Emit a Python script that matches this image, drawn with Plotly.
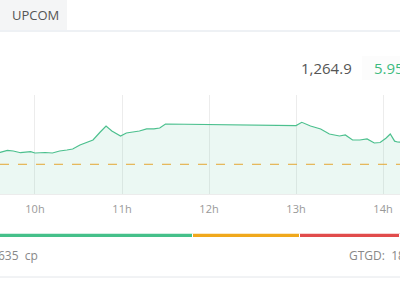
import plotly.graph_objects as go

# ---- data ----
times = ["09:30", "09:36", "09:41", "09:45", "09:50", "09:54", "09:57", "10:00", "10:04", "10:07",
         "10:12", "10:17", "10:22", "10:26", "10:31", "10:36", "10:40", "10:45", "10:49",
         "10:53", "10:59", "11:03", "11:08", "11:12", "11:17", "11:22", "11:26", "11:30",
         "13:00", "13:04", "13:10", "13:17", "13:23", "13:27", "13:30", "13:34", "13:39",
         "13:44", "13:49", "13:54", "13:58", "14:02", "14:05", "14:08", "14:10", "14:15"]
values = [1262.3, 1262.19, 1262.73, 1262.54, 1262.08, 1262.2, 1262.35, 1262.0, 1262.05, 1262.14,
          1262.0, 1262.54, 1262.81, 1263.08, 1264.17, 1264.98, 1265.52, 1267.68, 1269.30,
          1267.95, 1266.6, 1267.41, 1267.6, 1267.95, 1268.5, 1268.5, 1268.76, 1269.84,
          1269.4, 1270.3, 1269.3, 1268.5, 1267.14, 1266.9, 1266.6, 1266.87, 1265.52,
          1265.52, 1265.79, 1264.71, 1264.84, 1266.0, 1267.14, 1265.2, 1264.98, 1264.9]
ref_value = 1258.95
tick_vals = ["10:00", "11:00", "12:00", "13:00", "14:00"]
tick_text = ["10h", "11h", "12h", "13h", "14h"]
bar_values = [193, 107, 100]
bar_colors = ["#45c08a", "#f0a81c", "#e14c4c"]

day = "2024-01-02 "
W, H = 400, 285

def fy(px):  # pixel y -> paper fraction
    return (H - px) / H

fig = go.Figure()
fig.add_trace(go.Scatter(
    x=[day + t for t in times], y=values, mode="lines",
    line=dict(color="#4cc08e", width=1.2), fill="tozeroy",
    fillcolor="rgba(76,192,142,0.11)", hoverinfo="skip", showlegend=False,
    xaxis="x", yaxis="y"))

for v, c in zip(bar_values, bar_colors):
    fig.add_trace(go.Bar(x=[v], y=[0], orientation="h", marker=dict(color=c, line=dict(color="white", width=1)),
                         width=1, showlegend=False, hoverinfo="skip", xaxis="x2", yaxis="y2"))

fig.add_shape(type="line", xref="paper", x0=0, x1=1, yref="y", y0=ref_value, y1=ref_value,
              line=dict(color="#e5a632", width=1, dash="dash"))
# tab background and separators
fig.add_shape(type="rect", xref="paper", yref="paper", x0=0, x1=67 / W, y0=fy(30), y1=1,
              fillcolor="#f4f5f6", line_width=0, layer="below")
fig.add_shape(type="line", xref="paper", yref="paper", x0=0, x1=1, y0=fy(31), y1=fy(31),
              line=dict(color="#dde3ea", width=1))
fig.add_shape(type="line", xref="paper", yref="paper", x0=0, x1=1, y0=fy(277), y1=fy(277),
              line=dict(color="#e3e6ea", width=1))
fig.add_shape(type="rect", xref="paper", yref="paper", x0=362 / W, x1=1.05, y0=fy(80), y1=fy(56),
              fillcolor="#fcfcfc", line_width=0, layer="below")

font = "Open Sans, sans-serif"
ann = [
    dict(text="UPCOM", x=10 / W, y=fy(15), xanchor="left", font=dict(size=13, color="#555")),
    dict(text="1,264.9", x=299 / W, y=fy(68), xanchor="left", font=dict(size=15, color="#555")),
    dict(text="5.95", x=372 / W, y=fy(68), xanchor="left", font=dict(size=15, color="#3dbb80")),
    dict(text="635\u00a0\u00a0cp", x=-4 / W, y=fy(255), xanchor="left", font=dict(size=12, color="#888")),
    dict(text="GTGD:\u00a0\u00a018", x=347 / W, y=fy(255), xanchor="left", font=dict(size=12, color="#888")),
]
for a in ann:
    a.update(xref="paper", yref="paper", showarrow=False, yanchor="middle")

fig.update_layout(
    width=W, height=H, margin=dict(l=0, r=0, t=0, b=0),
    paper_bgcolor="white", plot_bgcolor="white", font=dict(family=font),
    annotations=ann, barmode="stack", bargap=0,
    xaxis=dict(type="date", range=[day + "09:35:52", day + "14:11:43"],
               tickvals=[day + t for t in tick_vals], ticktext=tick_text,
               showgrid=True, gridcolor="#ececec", gridwidth=1,
               showline=True, linecolor="#ececec", ticks="", ticklabelstandoff=5,
               tickfont=dict(size=11, color="#999"), zeroline=False, fixedrange=True),
    yaxis=dict(domain=[fy(194), fy(95)], range=[1250.92, 1277.68], showgrid=False,
               showticklabels=False, zeroline=False, showline=False),
    xaxis2=dict(anchor="y2", range=[0, 400], visible=False),
    yaxis2=dict(domain=[fy(237.5), fy(233.5)], range=[-0.5, 0.5], visible=False),
)
fig.write_html("out.html")
